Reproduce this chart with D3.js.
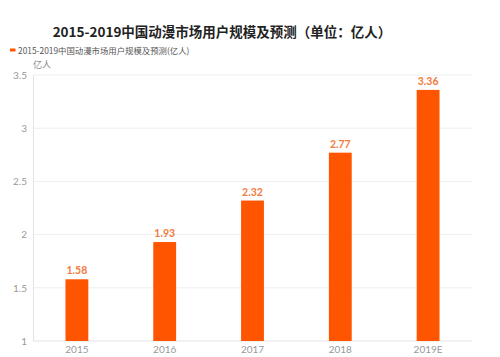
<!DOCTYPE html>
<html><head><meta charset="utf-8">
<script src="https://cdn.jsdelivr.net/npm/d3@7"></script>
<style>body{margin:0;background:#fff;}svg{display:block;font-family:"Noto Sans CJK SC","Noto Sans",sans-serif;}</style>
</head><body>
<svg id="c" width="500" height="357"></svg>
<script>
const categories = ["2015","2016","2017","2018","2019E"];
const values = [1.58,1.93,2.32,2.77,3.36];
const yTicks = [1,1.5,2,2.5,3,3.5];
const title = "2015-2019中国动漫市场用户规模及预测（单位：亿人）";
const seriesName = "2015-2019中国动漫市场用户规模及预测(亿人)";
const unit = "亿人";

const svg = d3.select("#c");
const m = {l:33, r:28, t:75, b:16};
const W = 500, H = 357;
const x = d3.scaleBand().domain(categories).range([m.l, W - m.r]).paddingInner(0.74).paddingOuter(0.37);
const y = d3.scaleLinear().domain([1,3.5]).range([H - m.b, m.t]);

// grid
svg.append("g").selectAll("line").data(yTicks.slice(1)).join("line")
  .attr("x1", m.l).attr("x2", W - m.r).attr("y1", d=>y(d)).attr("y2", d=>y(d))
  .attr("stroke","#eeeeee").attr("stroke-width",1);

// y axis
const ya = svg.append("g").attr("transform",`translate(${m.l},0)`)
  .call(d3.axisLeft(y).tickValues(yTicks).tickSize(0).tickPadding(6).tickFormat(d3.format("~g")));
ya.select(".domain").attr("stroke","#e3e3e3");
ya.selectAll("text").attr("fill","#999").attr("font-size",10).attr("font-family","Lato, 'Noto Sans', sans-serif");

// x axis
const xa = svg.append("g").attr("transform",`translate(0,${H - m.b})`)
  .call(d3.axisBottom(x).tickSize(0).tickPadding(5));
xa.select(".domain").attr("stroke","#e3e3e3").attr("d", `M${m.l},0H${W - m.r}`);
xa.selectAll("text").attr("fill","#999").attr("font-size",10).attr("font-family","Lato, 'Noto Sans', sans-serif");

// bars
svg.append("g").selectAll("rect").data(values).join("rect")
  .attr("x",(d,i)=>x(categories[i])).attr("width",x.bandwidth())
  .attr("y",d=>y(d)).attr("height",d=>y(1)-y(d)).attr("fill","#ff5400");

// labels
svg.append("g").selectAll("text").data(values).join("text")
  .attr("x",(d,i)=>x(categories[i])+x.bandwidth()/2).attr("y",d=>y(d)-5)
  .attr("text-anchor","middle").attr("font-size",10.5).attr("font-weight","bold")
  .attr("fill","#f27a3e").attr("font-family","Lato, 'Noto Sans', sans-serif")
  .text(d=>d.toFixed(2));

// title
svg.append("text").attr("x",222).attr("y",37).attr("text-anchor","middle")
  .attr("font-size",13.5).attr("font-weight","bold").attr("fill","#222").text(title);

// legend
svg.append("rect").attr("x",10).attr("y",48.5).attr("width",5.5).attr("height",3).attr("fill","#ff5400");
svg.append("text").attr("x",18).attr("y",53.5).attr("font-size",8.4).attr("fill","#555").text(seriesName);

// unit
svg.append("text").attr("x",33).attr("y",68).attr("font-size",9).attr("fill","#888").text(unit);
</script>
</body></html>
